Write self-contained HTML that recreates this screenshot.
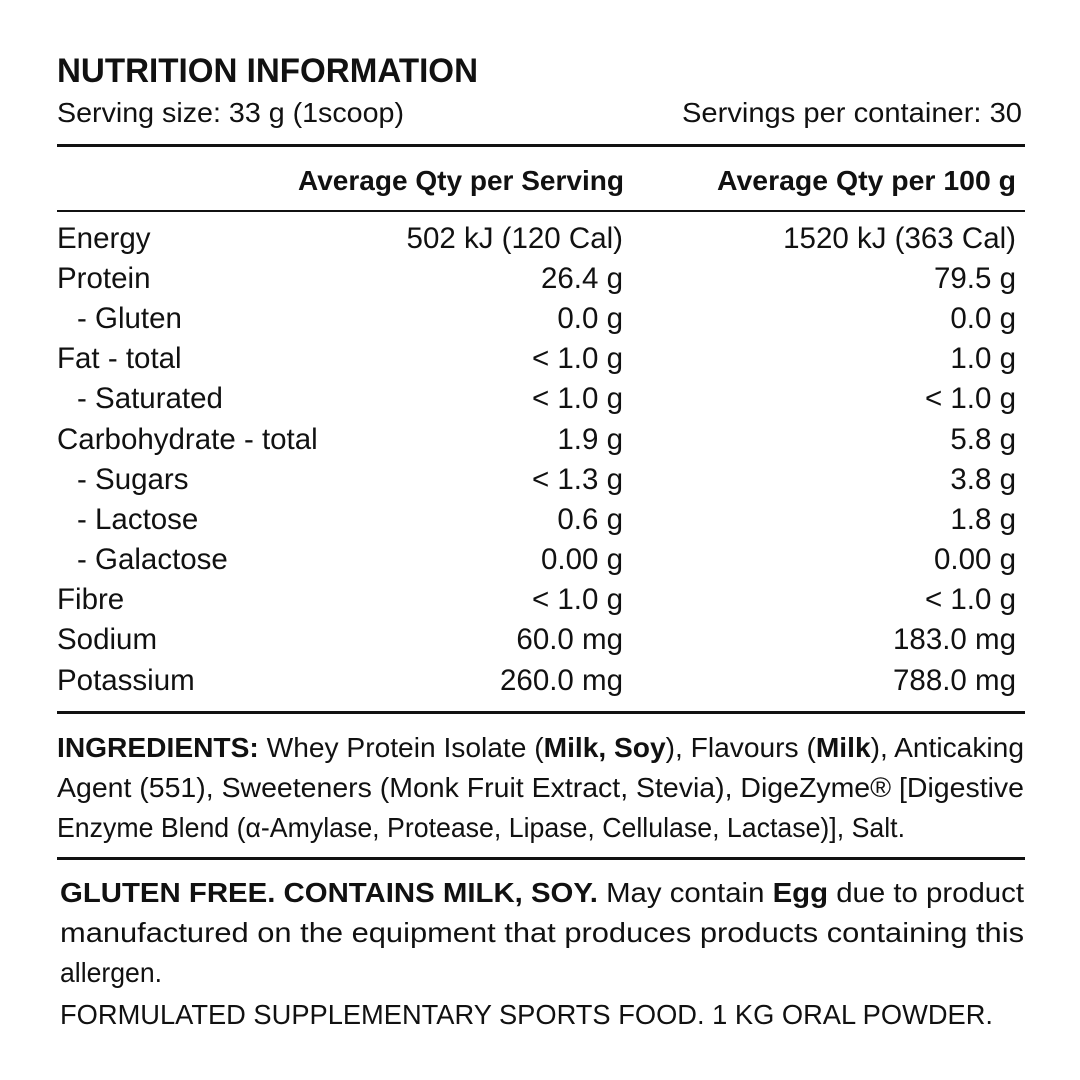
<!DOCTYPE html>
<html><head><meta charset="utf-8"><style>
html,body{margin:0;padding:0;background:#fff;}
svg{display:block;font-family:"Liberation Sans Narrow","Liberation Sans",sans-serif;fill:#111;}
.b{font-weight:bold;}
</style></head><body>
<svg width="1080" height="1080" viewBox="0 0 1080 1080" xmlns="http://www.w3.org/2000/svg">
<rect width="1080" height="1080" fill="#fff"/>
<text x="57" y="82" font-size="34" class="b" textLength="421" lengthAdjust="spacingAndGlyphs">NUTRITION INFORMATION</text>
<text x="57" y="122" font-size="28" textLength="347" lengthAdjust="spacingAndGlyphs">Serving size: 33 g (1scoop)</text>
<text x="682" y="122" font-size="28" textLength="340" lengthAdjust="spacingAndGlyphs">Servings per container: 30</text>
<rect x="57" y="144" width="968" height="3" fill="#111"/>
<text x="298" y="190" font-size="28" class="b" textLength="326" lengthAdjust="spacingAndGlyphs">Average Qty per Serving</text>
<text x="717" y="190" font-size="28" class="b" textLength="299" lengthAdjust="spacingAndGlyphs">Average Qty per 100 g</text>
<rect x="57" y="210" width="968" height="2" fill="#111"/>
<g font-size="29.5">
<g>
<text x="57" y="248">Energy</text>
<text x="57" y="288">Protein</text>
<text x="77" y="328">- Gluten</text>
<text x="57" y="368">Fat - total</text>
<text x="77" y="408">- Saturated</text>
<text x="57" y="449">Carbohydrate - total</text>
<text x="77" y="489">- Sugars</text>
<text x="77" y="529">- Lactose</text>
<text x="77" y="569">- Galactose</text>
<text x="57" y="609">Fibre</text>
<text x="57" y="649">Sodium</text>
<text x="57" y="690">Potassium</text>
</g>
<g text-anchor="end">
<text x="623" y="248">502 kJ (120 Cal)</text>
<text x="623" y="288">26.4 g</text>
<text x="623" y="328">0.0 g</text>
<text x="623" y="368">&lt; 1.0 g</text>
<text x="623" y="408">&lt; 1.0 g</text>
<text x="623" y="449">1.9 g</text>
<text x="623" y="489">&lt; 1.3 g</text>
<text x="623" y="529">0.6 g</text>
<text x="623" y="569">0.00 g</text>
<text x="623" y="609">&lt; 1.0 g</text>
<text x="623" y="649">60.0 mg</text>
<text x="623" y="690">260.0 mg</text>
<text x="1016" y="248">1520 kJ (363 Cal)</text>
<text x="1016" y="288">79.5 g</text>
<text x="1016" y="328">0.0 g</text>
<text x="1016" y="368">1.0 g</text>
<text x="1016" y="408">&lt; 1.0 g</text>
<text x="1016" y="449">5.8 g</text>
<text x="1016" y="489">3.8 g</text>
<text x="1016" y="529">1.8 g</text>
<text x="1016" y="569">0.00 g</text>
<text x="1016" y="609">&lt; 1.0 g</text>
<text x="1016" y="649">183.0 mg</text>
<text x="1016" y="690">788.0 mg</text>
</g>
</g>
<rect x="57" y="711" width="968" height="3" fill="#111"/>
<g font-size="28">
<text x="57" y="757" textLength="967" lengthAdjust="spacingAndGlyphs"><tspan class="b">INGREDIENTS:</tspan> Whey Protein Isolate (<tspan class="b">Milk, Soy</tspan>), Flavours (<tspan class="b">Milk</tspan>), Anticaking</text>
<text x="57" y="797" textLength="967" lengthAdjust="spacingAndGlyphs">Agent (551), Sweeteners (Monk Fruit Extract, Stevia), DigeZyme® [Digestive</text>
<text x="57" y="837" textLength="848" lengthAdjust="spacingAndGlyphs">Enzyme Blend (α-Amylase, Protease, Lipase, Cellulase, Lactase)], Salt.</text>
</g>
<rect x="57" y="857" width="968" height="3" fill="#111"/>
<g font-size="28">
<text x="60" y="902" textLength="964" lengthAdjust="spacingAndGlyphs"><tspan class="b">GLUTEN FREE. CONTAINS MILK, SOY.</tspan> May contain <tspan class="b">Egg</tspan> due to product</text>
<text x="60" y="942" textLength="964" lengthAdjust="spacingAndGlyphs">manufactured on the equipment that produces products containing this</text>
<text x="60" y="982" textLength="102" lengthAdjust="spacingAndGlyphs">allergen.</text>
<text x="60" y="1024" textLength="933" lengthAdjust="spacingAndGlyphs">FORMULATED SUPPLEMENTARY SPORTS FOOD. 1 KG ORAL POWDER.</text>
</g>
</svg>
</body></html>
